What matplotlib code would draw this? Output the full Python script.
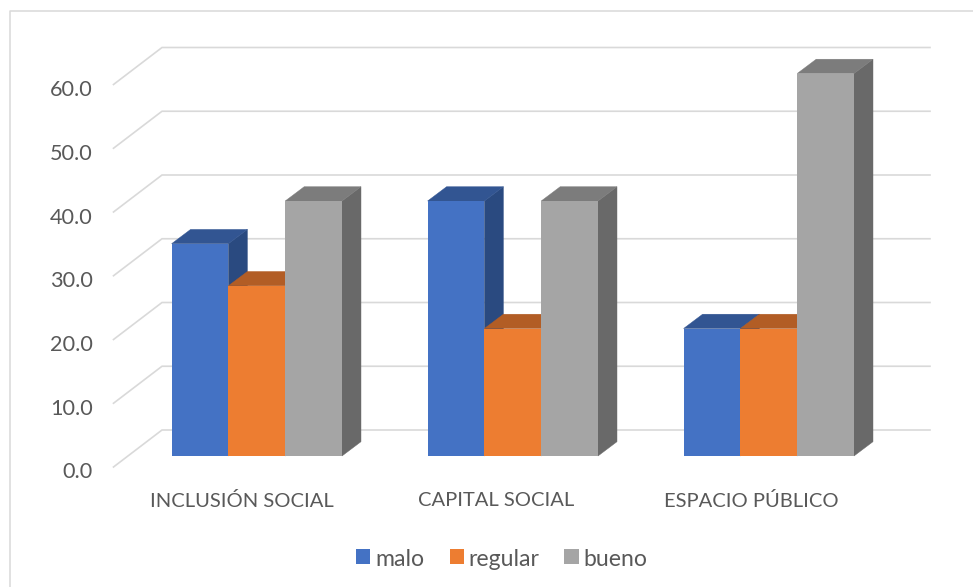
import matplotlib
matplotlib.use('Agg')
import matplotlib.pyplot as plt
from matplotlib.patches import Patch, Polygon

plt.rcParams['font.family'] = ['Lato', 'DejaVu Sans']

categories = ['INCLUSIÓN SOCIAL', 'CAPITAL SOCIAL', 'ESPACIO PÚBLICO']
malo = [33.3, 40.0, 20.0]
regular = [26.7, 20.0, 20.0]
bueno = [40.0, 40.0, 60.0]
y_ticks = [0, 10, 20, 30, 40, 50, 60]

series_names = ['malo', 'regular', 'bueno']
front_colors = ['#4472C4', '#ED7D31', '#A5A5A5']
top_colors = ['#325592', '#B25D25', '#7C7C7C']
side_colors = ['#2A4A80', '#9A4F1E', '#696969']
text_color = '#595959'
grid_color = '#D9D9D9'

W, H = 973, 587
X0, X_STEP = 256.8, 256.0   # pixel centre of first group, spacing of groups
Y0, Y_SCALE = 456.0, 6.375  # pixel of value 0, pixels per unit
label_shift = [-14.5, -17.0, -17.5]  # category labels sit a bit left of the bars


def px_x(p):
    return (p - X0) / X_STEP


def px_dy(p):
    return p / Y_SCALE


fig = plt.figure(figsize=(W / 100, H / 100), dpi=100)
ax = fig.add_axes([0, 0, 1, 1])
ax.set_xlim(px_x(0), px_x(W))
ax.set_ylim(-px_dy(H - Y0), px_dy(Y0))
ax.axis('off')

# chart area border, only left and top show in the picture
ax.plot([px_x(9.5), px_x(9.5), px_x(W)],
        [-px_dy(H - Y0), px_dy(Y0 - 11), px_dy(Y0 - 11)],
        color=grid_color, lw=1.1, zorder=1)

# gridlines on floor/side wall and back wall
back_up = px_dy(26)
front_down = px_dy(11)
for v in y_ticks:
    ax.plot([px_x(113.5), px_x(162), px_x(930)],
            [v - front_down, v + back_up, v + back_up],
            color=grid_color, lw=1.2, zorder=2, solid_joinstyle='miter')
    ax.text(px_x(92.5), v - front_down - px_dy(5.5), f'{v:.1f}', ha='right', va='center',
            fontsize=15.6, color=text_color)

bar_w = 56.8 / X_STEP
depth_x = 19.0 / X_STEP
depth_y = px_dy(14.3)
offsets = [-1.5 * bar_w, -0.5 * bar_w, 0.5 * bar_w]

z = 3
for i, name in enumerate(categories):
    for vals, off, fc, tc, sc in zip([malo, regular, bueno], offsets,
                                     front_colors, top_colors, side_colors):
        left = i + off
        right = left + bar_w
        v = vals[i]
        ax.add_patch(Polygon([(right, 0), (right + depth_x, depth_y),
                              (right + depth_x, v + depth_y), (right, v)],
                             closed=True, fc=sc, ec=sc, lw=0.3, zorder=z))
        ax.add_patch(Polygon([(left, v), (left + depth_x, v + depth_y),
                              (right + depth_x, v + depth_y), (right, v)],
                             closed=True, fc=tc, ec=tc, lw=0.3, zorder=z))
        ax.bar(left, v, width=bar_w, align='edge', color=fc, linewidth=0, zorder=z + 0.5)
        z += 1
    ax.text(i + label_shift[i] / X_STEP, -px_dy(45), name, ha='center', va='center',
            fontsize=14.5, color=text_color)

handles = [Patch(fc=c, ec='none', label=n) for c, n in zip(front_colors, series_names)]
leg = fig.legend(handles=handles, loc='center', bbox_to_anchor=(502 / W, 1 - 558 / H), ncol=3,
                 frameon=False, fontsize=16.6, labelcolor=text_color, handlelength=0.61,
                 handleheight=0.61, handletextpad=0.22, columnspacing=1.08, borderpad=0)
for t in leg.get_texts():
    t.set_y(-2)

fig.savefig('out.png', dpi=100)
